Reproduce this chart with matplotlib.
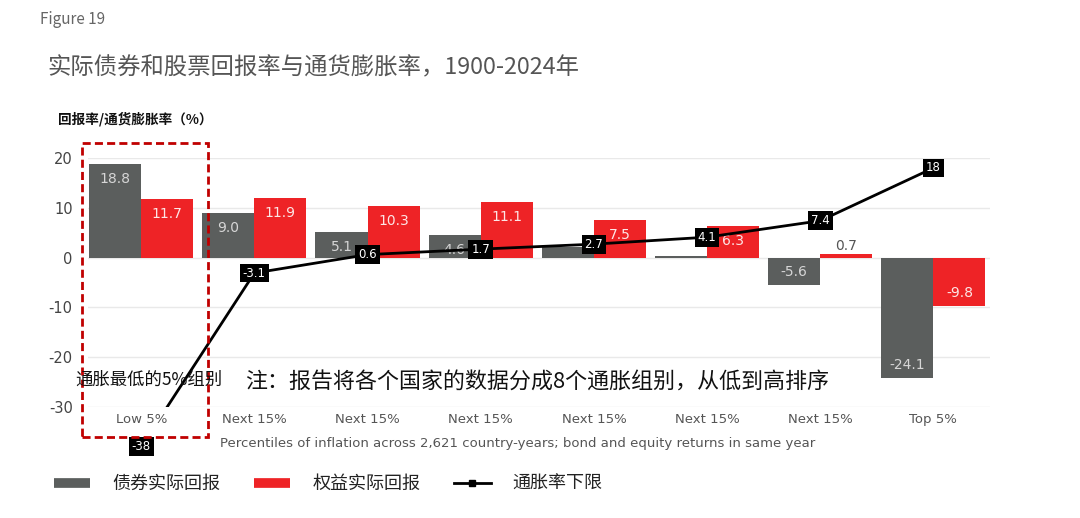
import matplotlib
matplotlib.use("Agg")
import matplotlib.pyplot as plt
import numpy as np
from matplotlib.patches import Rectangle
from matplotlib.lines import Line2D

plt.rcParams['font.family'] = ['Noto Sans CJK SC', 'DejaVu Sans']

categories = ["Low 5%", "Next 15%", "Next 15%", "Next 15%", "Next 15%", "Next 15%", "Next 15%", "Top 5%"]
bond_real = [18.8, 9.0, 5.1, 4.6, 2.1, 0.4, -5.6, -24.1]
bond_show = [True, True, True, True, False, False, True, True]
equity_real = [11.7, 11.9, 10.3, 11.1, 7.5, 6.3, 0.7, -9.8]
equity_show = [True, True, True, True, True, True, True, True]
inflation_low = [-38, -3.1, 0.6, 1.7, 2.7, 4.1, 7.4, 18]
yticks = [20, 10, 0, -10, -20, -30]

W, H = 1080, 518
fig = plt.figure(figsize=(W / 100, H / 100), dpi=100)
ax = fig.add_axes([88 / W, 1 - 407 / H, (990 - 88) / W, (407 - 158) / H])

GREY = '#5b5e5d'
RED = '#ee2326'
x = np.arange(len(categories))
w = 0.46

ax.set_xlim(-0.47, 7.5)
ax.set_ylim(-30, 20)
for s in ax.spines.values():
    s.set_visible(False)
ax.set_yticks(yticks)
ax.set_yticklabels([str(t) for t in yticks], family='DejaVu Sans', fontsize=10.5, color='#444444')
ax.set_xticks(x)
ax.set_xticklabels(categories, family='DejaVu Sans', fontsize=9.5, color='#555555')
ax.tick_params(axis='both', length=0)
ax.tick_params(axis='x', pad=4)
ax.tick_params(axis='y', pad=11)
for t in yticks:
    ax.axhline(t, color='#e9e9e9', lw=1, zorder=0)

bb = ax.bar(x - w / 2, bond_real, w, color=GREY, zorder=2)
rb = ax.bar(x + w / 2, equity_real, w, color=RED, zorder=2)


def put_labels(xs, vals, show, incolor):
    for xi, v, sh in zip(xs, vals, show):
        if not sh:
            continue
        txt = f"{v:.1f}"
        if abs(v) < 3:
            ax.annotate(txt, (xi, v), xytext=(0, 8), textcoords='offset pixels',
                        ha='center', va='center', fontsize=10, color='#555555',
                        family='DejaVu Sans', zorder=6)
        else:
            off = -15 if v > 0 else 13
            ax.annotate(txt, (xi, v), xytext=(0, off), textcoords='offset pixels',
                        ha='center', va='center', fontsize=10, color=incolor,
                        family='DejaVu Sans', zorder=3)


put_labels(x - w / 2, bond_real, bond_show, '#d6d6d6')
put_labels(x + w / 2, equity_real, equity_show, '#fde6e6')

ax.plot(x, inflation_low, color='black', lw=2, zorder=4)
for xi, v in zip(x, inflation_low):
    ax.text(xi, v, f"{v:g}", ha='center', va='center', fontsize=8.5, color='white',
            family='DejaVu Sans', zorder=5, clip_on=False,
            bbox=dict(boxstyle='square,pad=0.25', fc='black', ec='none'))

# texts
fig.text(40 / W, 1 - 20 / H, "Figure 19", fontsize=11, color='#666666', va='center', ha='left')
fig.text(47 / W, 1 - 68 / H, "实际债券和股票回报率与通货膨胀率，1900-2024年", fontsize=16.8,
         color='#555555', va='center', ha='left')
fig.text(58 / W, 1 - 119 / H, "回报率/通货膨胀率（%）", fontsize=9.8, fontweight='bold',
         color='#111111', va='center', ha='left')
fig.text(518 / W, 1 - 444 / H,
         "Percentiles of inflation across 2,621 country-years; bond and equity returns in same year",
         fontsize=9.5, color='#555555', va='center', ha='center', family='DejaVu Sans')
fig.text(75 / W, 1 - 380 / H, "通胀最低的5%组别", fontsize=12.5, color='#111111', va='center', ha='left')
fig.text(245 / W, 1 - 383 / H, "注：报告将各个国家的数据分成8个通胀组别，从低到高排序", fontsize=15.8,
         color='#111111', va='center', ha='left')

# red dashed box
fig.patches.append(Rectangle((82 / W, 1 - 437 / H), (208 - 82) / W, (437 - 143) / H,
                             transform=fig.transFigure, fill=False, ec='#c00000',
                             ls=(0, (2.9, 1.5)), lw=2))

handles = [Line2D([], [], color=GREY, lw=7, solid_capstyle='butt'),
           Line2D([], [], color=RED, lw=7, solid_capstyle='butt'),
           Line2D([], [], color='black', lw=2, marker='s', markersize=5)]
leg = fig.legend(handles, ["债券实际回报", "权益实际回报", "通胀率下限"], loc='center left',
                 bbox_to_anchor=(38 / W, 1 - 484 / H), ncol=3, frameon=False, fontsize=13,
                 handlelength=2.0, handletextpad=1.2, columnspacing=1.9)
for t in leg.get_texts():
    t.set_color('#222222')

fig.savefig("out.png", dpi=100)
